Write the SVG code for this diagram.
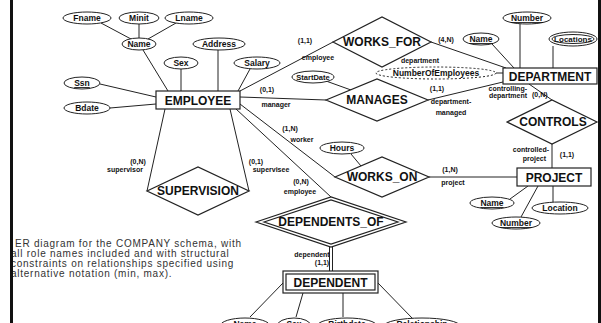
<svg xmlns="http://www.w3.org/2000/svg" width="601" height="323" viewBox="0 0 601 323">
  <style>
    .ent { fill: #fff; stroke: #222; stroke-width: 1.2; }
    .rel { fill: #fff; stroke: #222; stroke-width: 1.2; }
    .attr { fill: #fff; stroke: #222; stroke-width: 1; }
    .derived { stroke-dasharray: 2 2; }
    .conn line { stroke: #222; stroke-width: 1; fill: none; }
    text { font-family: "Liberation Sans", Arial, sans-serif; fill: #111; }
    .tn { font-size: 12px; font-weight: bold; text-anchor: middle; }
    .ta { font-size: 8.5px; font-weight: bold; text-anchor: middle; }
    .tr { font-size: 7px; font-weight: bold; text-anchor: middle; }
    .cap { font-size: 10px; letter-spacing: 0.75px; fill: #333; }
    .key { text-decoration: underline; }
  </style>

  <rect width="601" height="323" fill="#fff"/>

  <!-- connectors -->
  <g id="connectors" class="conn">
    <line x1="101" y1="23" x2="131" y2="39"/>
    <line x1="139" y1="24" x2="139" y2="38"/>
    <line x1="176" y1="23" x2="148" y2="39"/>
    <line x1="143" y1="50" x2="168" y2="91"/>
    <line x1="181" y1="69" x2="181" y2="91"/>
    <line x1="218" y1="50" x2="218" y2="91"/>
    <line x1="250" y1="69" x2="238" y2="91"/>
    <line x1="100" y1="84" x2="156" y2="97"/>
    <line x1="110" y1="108" x2="156" y2="104"/>
    <line x1="240" y1="91" x2="333" y2="42"/>
    <line x1="431" y1="42" x2="506" y2="68"/>
    <line x1="240" y1="97" x2="326" y2="100"/>
    <line x1="428" y1="100" x2="503" y2="82"/>
    <line x1="326" y1="81" x2="351" y2="90"/>
    <line x1="496" y1="73" x2="503" y2="73"/>
    <line x1="492" y1="44" x2="514" y2="68"/>
    <line x1="520" y1="24" x2="520" y2="68"/>
    <line x1="553" y1="46" x2="553" y2="68"/>
    <line x1="529" y1="84" x2="552" y2="100"/>
    <line x1="552" y1="144" x2="552" y2="168"/>
    <line x1="429" y1="177" x2="517" y2="177"/>
    <line x1="351" y1="154" x2="361" y2="166"/>
    <line x1="240" y1="104" x2="335" y2="177"/>
    <line x1="236" y1="109" x2="331" y2="197"/>
    <line x1="165" y1="109" x2="147" y2="191"/>
    <line x1="230" y1="109" x2="249" y2="191"/>
    <line x1="510" y1="199" x2="528" y2="186"/>
    <line x1="521" y1="217" x2="538" y2="186"/>
    <line x1="553" y1="186" x2="553" y2="202"/>
    <line x1="329.5" y1="247" x2="329.5" y2="271"/>
    <line x1="332.5" y1="247" x2="332.5" y2="271"/>
    <line x1="283" y1="283" x2="250" y2="317"/>
    <line x1="303" y1="293" x2="296" y2="317"/>
    <line x1="343" y1="293" x2="343" y2="317"/>
    <line x1="378" y1="283" x2="413" y2="319"/>
  </g>

  <!-- EMPLOYEE attributes -->
  <g id="attr-fname"><ellipse class="attr" cx="87" cy="18" rx="24" ry="6"/><text class="ta" x="87" y="21">Fname</text></g>
  <g id="attr-minit"><ellipse class="attr" cx="139" cy="18" rx="20" ry="6"/><text class="ta" x="139" y="21">Minit</text></g>
  <g id="attr-lname"><ellipse class="attr" cx="189" cy="18" rx="24" ry="6"/><text class="ta" x="189" y="21">Lname</text></g>
  <g id="attr-name"><ellipse class="attr" cx="139" cy="44" rx="17" ry="6"/><text class="ta" x="139" y="47">Name</text></g>
  <g id="attr-address"><ellipse class="attr" cx="219" cy="44" rx="26" ry="6"/><text class="ta" x="219" y="47">Address</text></g>
  <g id="attr-sex"><ellipse class="attr" cx="181" cy="63" rx="17" ry="6"/><text class="ta" x="181" y="66">Sex</text></g>
  <g id="attr-salary"><ellipse class="attr" cx="257" cy="63" rx="23" ry="6"/><text class="ta" x="257" y="66">Salary</text></g>
  <g id="attr-ssn"><ellipse class="attr" cx="82" cy="83" rx="18" ry="6"/><text class="ta key" x="82" y="86">Ssn</text></g>
  <g id="attr-bdate"><ellipse class="attr" cx="87" cy="108" rx="23" ry="6"/><text class="ta" x="87" y="111">Bdate</text></g>

  <!-- relationship attributes -->
  <g id="attr-startdate"><ellipse class="attr" cx="313" cy="77" rx="21" ry="6"/><text class="ta" x="313" y="80" style="font-size:7.5px">StartDate</text></g>
  <g id="attr-hours"><ellipse class="attr" cx="342" cy="148" rx="22" ry="6"/><text class="ta" x="342" y="151">Hours</text></g>

  <!-- DEPARTMENT attributes -->
  <g id="attr-dname"><ellipse class="attr" cx="481" cy="39" rx="18" ry="6"/><text class="ta key" x="481" y="42">Name</text></g>
  <g id="attr-dnumber"><ellipse class="attr" cx="527" cy="18" rx="24" ry="6"/><text class="ta key" x="527" y="21">Number</text></g>
  <g id="attr-locations"><ellipse class="attr" cx="573" cy="39" rx="24" ry="7"/><ellipse class="attr" cx="573" cy="39" rx="21" ry="4.5"/><text class="ta" x="573" y="42" style="font-size:8px">Locations</text></g>
  <g id="attr-numemp"><ellipse class="attr derived" cx="436" cy="73" rx="60" ry="6"/><text class="ta" x="436" y="76">NumberOfEmployees</text></g>

  <!-- PROJECT attributes -->
  <g id="attr-pname"><ellipse class="attr" cx="492" cy="203" rx="22" ry="6"/><text class="ta key" x="492" y="206">Name</text></g>
  <g id="attr-plocation"><ellipse class="attr" cx="560" cy="208" rx="28" ry="6"/><text class="ta" x="560" y="211">Location</text></g>
  <g id="attr-pnumber"><ellipse class="attr" cx="516" cy="223" rx="24" ry="6"/><text class="ta key" x="516" y="226">Number</text></g>

  <!-- DEPENDENT attributes (run off the bottom edge) -->
  <g id="attr-depname"><ellipse class="attr" cx="245" cy="326" rx="25" ry="8"/><text class="ta" x="245" y="327">Name</text></g>
  <g id="attr-depsex"><ellipse class="attr" cx="294" cy="326" rx="17" ry="8"/><text class="ta" x="294" y="327">Sex</text></g>
  <g id="attr-birthdate"><ellipse class="attr" cx="347" cy="326" rx="30" ry="8"/><text class="ta" x="347" y="327">Birthdate</text></g>
  <g id="attr-relationship"><ellipse class="attr" cx="422" cy="326" rx="38" ry="8"/><text class="ta" x="422" y="327">Relationship</text></g>

  <!-- entities -->
  <g id="employee"><rect class="ent" x="156" y="91" width="84" height="18"/><text class="tn" x="198" y="104.5">EMPLOYEE</text></g>
  <g id="department"><rect class="ent" x="503" y="68" width="94" height="16"/><text class="tn" x="550" y="80.5">DEPARTMENT</text></g>
  <g id="project"><rect class="ent" x="517" y="168" width="74" height="18"/><text class="tn" x="554" y="181.5">PROJECT</text></g>
  <g id="dependent"><rect class="ent" x="283" y="271" width="95" height="22"/><rect class="ent" x="286" y="274" width="89" height="16"/><text class="tn" x="330.5" y="286.5">DEPENDENT</text></g>

  <!-- relationships -->
  <g id="works-for"><polygon class="rel" points="333,42 382,17 431,42 382,67"/><text class="tn" x="382" y="46">WORKS_FOR</text></g>
  <g id="manages"><polygon class="rel" points="326,100 377,79 428,100 377,121"/><text class="tn" x="377" y="104">MANAGES</text></g>
  <g id="controls"><polygon class="rel" points="507,122 552,100 597,122 552,144"/><text class="tn" x="553" y="126">CONTROLS</text></g>
  <g id="works-on"><polygon class="rel" points="335,177 382,157 429,177 382,197"/><text class="tn" x="382" y="181">WORKS_ON</text></g>
  <g id="supervision"><polygon class="rel" points="147,191 198,167 249,191 198,215"/><text class="tn" x="198" y="195">SUPERVISION</text></g>
  <g id="dependents-of"><polygon class="rel" points="256,222 331,197 406,222 331,247"/><polygon class="rel" points="264,222 331,200 398,222 331,244"/><text class="tn" x="331" y="226">DEPENDENTS_OF</text></g>

  <!-- role names and (min, max) constraints -->
  <g id="roles">
    <text class="tr" x="305" y="43">(1,1)</text>
    <text class="tr" x="318" y="60">employee</text>
    <text class="tr" x="446" y="42">(4,N)</text>
    <text class="tr" x="420" y="63">department</text>
    <text class="tr" x="267" y="92">(0,1)</text>
    <text class="tr" x="276" y="107">manager</text>
    <text class="tr" x="437" y="91">(1,1)</text>
    <text class="tr" x="451" y="104">department-</text>
    <text class="tr" x="451" y="115">managed</text>
    <text class="tr" x="527" y="91" style="text-anchor:end">controlling-</text>
    <text class="tr" x="527" y="98" style="text-anchor:end">department</text>
    <text class="tr" x="532" y="97" style="text-anchor:start">(0,N)</text>
    <text class="tr" x="549" y="152" style="text-anchor:end">controlled-</text>
    <text class="tr" x="546" y="161" style="text-anchor:end">project</text>
    <text class="tr" x="567" y="157">(1,1)</text>
    <text class="tr" x="450" y="172">(1,N)</text>
    <text class="tr" x="453" y="185">project</text>
    <text class="tr" x="290" y="131">(1,N)</text>
    <text class="tr" x="302" y="142">worker</text>
    <text class="tr" x="301" y="184">(0,N)</text>
    <text class="tr" x="300" y="194">employee</text>
    <text class="tr" x="138" y="164">(0,N)</text>
    <text class="tr" x="125" y="172">supervisor</text>
    <text class="tr" x="256" y="164">(0,1)</text>
    <text class="tr" x="271" y="172">supervisee</text>
    <text class="tr" x="312" y="257">dependent</text>
    <text class="tr" x="322" y="265">(1,1)</text>
  </g>

  <!-- caption -->
  <g id="caption">
    <text class="cap" x="15" y="247">ER diagram for the COMPANY schema, with</text>
    <text class="cap" x="11" y="257">all role names included and with structural</text>
    <text class="cap" x="11" y="267">constraints on relationships specified using</text>
    <text class="cap" x="11" y="277">alternative notation (min, max).</text>
  </g>

  <!-- frame bars -->
  <rect x="10" y="0" width="3" height="323" fill="#111"/>
  <rect x="598" y="0" width="3" height="323" fill="#111"/>
</svg>
